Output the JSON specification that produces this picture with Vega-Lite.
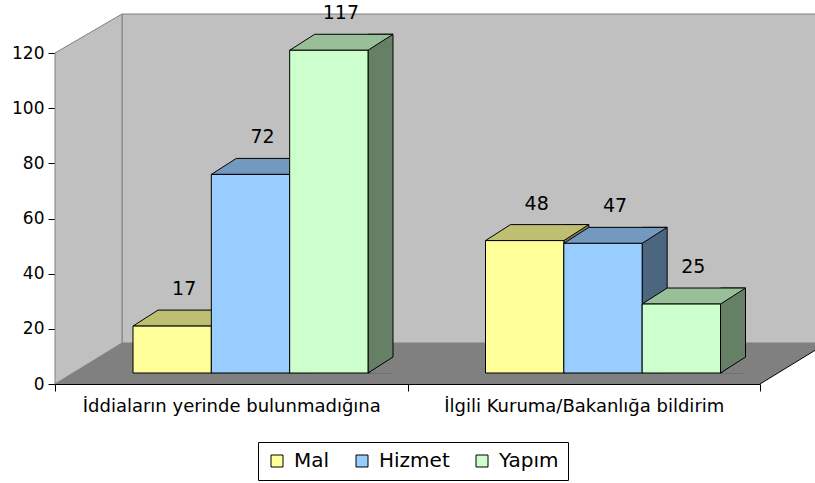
{
  "$schema": "https://vega.github.io/schema/vega-lite/v6.json",
  "width": 705,
  "height": 331,
  "autosize": {"type": "none"},
  "padding": {"left": 55, "top": 53, "right": 55, "bottom": 99},
  "background": "white",
  "config": {
    "view": {"stroke": null},
    "font": "DejaVu Sans",
    "axis": {"domainColor": "black", "tickColor": "black", "labelColor": "black", "labelFont": "DejaVu Sans", "grid": false, "zindex": 1, "domainWidth": 1, "tickWidth": 1, "tickSize": 7},
    "axisX": {"tickBand": "extent", "labelFontSize": 18, "labelAngle": 0, "labelPadding": 6, "labelLimit": 500},
    "axisY": {"labelFontSize": 17, "labelPadding": 4, "tickCount": 6}
  },
  "data": {"values": [
    {"kategori": "İddiaların yerinde bulunmadığına", "seri": "Mal", "deger": 17},
    {"kategori": "İddiaların yerinde bulunmadığına", "seri": "Hizmet", "deger": 72},
    {"kategori": "İddiaların yerinde bulunmadığına", "seri": "Yapım", "deger": 117},
    {"kategori": "İlgili Kuruma/Bakanlığa bildirim", "seri": "Mal", "deger": 48},
    {"kategori": "İlgili Kuruma/Bakanlığa bildirim", "seri": "Hizmet", "deger": 47},
    {"kategori": "İlgili Kuruma/Bakanlığa bildirim", "seri": "Yapım", "deger": 25}
  ]},
  "layer": [
    {
      "data": {"values": [{}]},
      "mark": {"type": "point", "shape": "M-285.5,-41 L-285.5,-370 L440,-370 L440,-41 Z", "size": 4, "filled": true, "fill": "#C0C0C0", "stroke": "#808080", "strokeWidth": 1, "opacity": 1},
      "encoding": {"y": {"datum": 0, "type": "quantitative", "title": null, "scale": {"domain": [0, 120], "nice": false}}}
    },
    {
      "data": {"values": [{}]},
      "mark": {"type": "point", "shape": "M-352.5,0 L-352.5,-331 L-285.5,-370 L-285.5,-41 Z", "size": 4, "filled": true, "fill": "#C0C0C0", "stroke": "#808080", "strokeWidth": 1, "opacity": 1},
      "encoding": {"y": {"datum": 0, "type": "quantitative", "title": null, "scale": {"domain": [0, 120], "nice": false}}}
    },
    {
      "data": {"values": [{}]},
      "mark": {"type": "point", "shape": "M-352.5,0 L352.5,0 L419.5,-41 L-285.5,-41 Z", "size": 4, "filled": true, "fill": "#808080", "strokeWidth": 0, "opacity": 1},
      "encoding": {"y": {"datum": 0, "type": "quantitative", "title": null, "scale": {"domain": [0, 120], "nice": false}}}
    },
    {
      "data": {"values": [{}]},
      "mark": {"type": "point", "shape": "M352.5,0 L419.5,-41", "size": 4, "filled": false, "stroke": "black", "strokeWidth": 1, "opacity": 1},
      "encoding": {"y": {"datum": 0, "type": "quantitative", "title": null, "scale": {"domain": [0, 120], "nice": false}}}
    },
    {
      "mark": {"type": "bar", "width": 25, "stroke": "black", "strokeWidth": 1, "yOffset": -27, "y2Offset": -11},
      "encoding": {
        "x": {"field": "kategori", "type": "nominal", "title": null, "sort": null, "scale": {"type": "band", "paddingInner": 0, "paddingOuter": 0}},
        "xOffset": {"field": "seri", "type": "nominal", "scale": {"type": "band", "domain": ["Mal", "Hizmet", "Yapım"], "range": [129.67, 364.67], "paddingInner": 0, "paddingOuter": 0}},
        "y": {"field": "deger", "type": "quantitative", "title": null, "stack": null, "scale": {"domain": [0, 120], "nice": false}},
        "y2": {"datum": 0},
        "color": {"field": "seri", "type": "nominal", "scale": {"domain": ["Mal", "Hizmet", "Yapım"], "range": ["#80804D", "#4D6680", "#668066"]}, "legend": null}
      }
    },
    {
      "mark": {"type": "point", "shape": "M39.67,-10.3 L65.2,-10.3 L65.2,-27.6 Z", "size": 4, "filled": true, "fill": "#808080", "strokeWidth": 0, "opacity": 1},
      "encoding": {
        "x": {"field": "kategori", "type": "nominal", "title": null, "sort": null, "scale": {"type": "band", "paddingInner": 0, "paddingOuter": 0}},
        "xOffset": {"field": "seri", "type": "nominal", "scale": {"type": "band", "domain": ["Mal", "Hizmet", "Yapım"], "range": [78, 313], "paddingInner": 0, "paddingOuter": 0}},
        "y": {"datum": 0, "type": "quantitative", "title": null, "scale": {"domain": [0, 120], "nice": false}}
      }
    },
    {
      "mark": {"type": "point", "shape": "M39.17,-11 L64.17,-27", "size": 4, "filled": false, "stroke": "black", "strokeWidth": 1, "opacity": 1},
      "encoding": {
        "x": {"field": "kategori", "type": "nominal", "title": null, "sort": null, "scale": {"type": "band", "paddingInner": 0, "paddingOuter": 0}},
        "xOffset": {"field": "seri", "type": "nominal", "scale": {"type": "band", "domain": ["Mal", "Hizmet", "Yapım"], "range": [78, 313], "paddingInner": 0, "paddingOuter": 0}},
        "y": {"datum": 0, "type": "quantitative", "title": null, "scale": {"domain": [0, 120], "nice": false}}
      }
    },
    {
      "mark": {"type": "point", "shape": "M-39.17,-11 L39.17,-11 L64.17,-27 L-14.17,-27 Z", "size": 4, "filled": true, "stroke": "black", "strokeWidth": 1, "opacity": 1},
      "encoding": {
        "x": {"field": "kategori", "type": "nominal", "title": null, "sort": null, "scale": {"type": "band", "paddingInner": 0, "paddingOuter": 0}},
        "xOffset": {"field": "seri", "type": "nominal", "scale": {"type": "band", "domain": ["Mal", "Hizmet", "Yapım"], "range": [78, 313], "paddingInner": 0, "paddingOuter": 0}},
        "y": {"field": "deger", "type": "quantitative", "title": null, "scale": {"domain": [0, 120], "nice": false}},
        "color": {"field": "seri", "type": "nominal", "scale": {"domain": ["Mal", "Hizmet", "Yapım"], "range": ["#BFBF73", "#7399BF", "#99BF99"]}, "legend": null}
      }
    },
    {
      "mark": {"type": "bar", "stroke": "black", "strokeWidth": 1, "yOffset": -11, "y2Offset": -11},
      "encoding": {
        "x": {"field": "kategori", "type": "nominal", "title": null, "sort": null, "scale": {"type": "band", "paddingInner": 0, "paddingOuter": 0}},
        "xOffset": {"field": "seri", "type": "nominal", "scale": {"type": "band", "domain": ["Mal", "Hizmet", "Yapım"], "range": [78, 313], "paddingInner": 0, "paddingOuter": 0}},
        "y": {"field": "deger", "type": "quantitative", "title": null, "stack": null, "scale": {"domain": [0, 120], "nice": false}},
        "y2": {"datum": 0},
        "color": {"field": "seri", "type": "nominal", "title": null,
          "scale": {"domain": ["Mal", "Hizmet", "Yapım"], "range": ["#FFFF99", "#99CCFF", "#CCFFCC"]},
          "legend": {"orient": "none", "legendX": 203, "legendY": 389, "direction": "horizontal", "title": null, "symbolType": "square", "symbolSize": 144, "symbolStrokeColor": "black", "symbolStrokeWidth": 1, "symbolOpacity": 1, "labelFontSize": 20, "labelFont": "DejaVu Sans", "labelColor": "black", "strokeColor": "black", "fillColor": "white", "padding": 9, "columnPadding": 22, "labelOffset": 7}}
      }
    },
    {
      "mark": {"type": "text", "font": "DejaVu Sans", "fontSize": 19, "color": "black", "baseline": "middle", "align": "center", "dx": 12, "dy": -48},
      "encoding": {
        "x": {"field": "kategori", "type": "nominal", "title": null, "sort": null, "scale": {"type": "band", "paddingInner": 0, "paddingOuter": 0}},
        "xOffset": {"field": "seri", "type": "nominal", "scale": {"type": "band", "domain": ["Mal", "Hizmet", "Yapım"], "range": [78, 313], "paddingInner": 0, "paddingOuter": 0}},
        "y": {"field": "deger", "type": "quantitative", "title": null, "scale": {"domain": [0, 120], "nice": false}},
        "text": {"field": "deger", "type": "quantitative"}
      }
    }
  ],
  "resolve": {"scale": {"color": "independent", "xOffset": "independent"}}
}
